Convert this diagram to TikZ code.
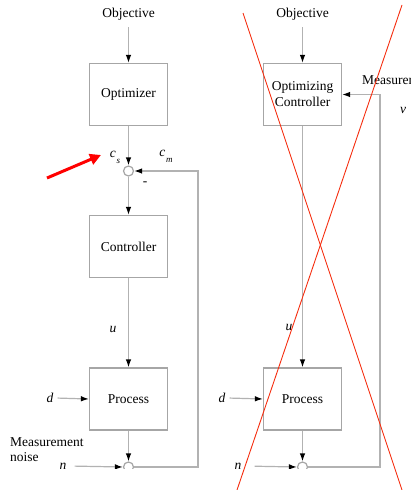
\documentclass[tikz,border=0pt]{standalone}
\usepackage{tikz}
\usetikzlibrary{arrows.meta,shapes}
\usepackage{fontspec}
\setmainfont{Liberation Serif}

\newcommand{\sgn}[2]{\textit{#1}\kern1pt\raisebox{-6pt}{\small\textit{#2}}}

\begin{document}
\begin{tikzpicture}[
            x=1pt,y=-1pt,
            font=\rmfamily\fontsize{13.5}{15.5}\selectfont,
            block/.style={draw=gray!70,line width=1.2pt,rectangle,minimum width=78,minimum height=62,align=center,text=black},
            sum/.style={draw=gray!70,line width=1.2pt,circle,minimum size=10,inner sep=0},
            lab/.style={text=black,inner sep=2},
            sig/.style={draw=gray!60,line width=1.2pt,-{Latex[black,length=8pt,width=5.5pt]}},
            cross/.style={draw={rgb,255:red,245;green,45;blue,15},line width=0.9pt}
          ]
          \useasboundingbox (0,0) rectangle (411,490);
          \begin{scope}
          \clip (0,0) rectangle (411,468);

          %left loop
          \node[lab] (obj1) at (128.5,14) {Objective};
          \node[block,below of = obj1,node distance=80.5] (opt) {Optimizer};
          \node[sum,below of = opt,node distance=76.5] (s1) {};
          \node[block,below of = s1,node distance=75.5] (ctrl) {Controller};
          \node[block,below of = ctrl,node distance=152.5] (proc1) {Process};
          \node[sum,below of = proc1,node distance=68] (s2) {};
          \coordinate (fb1) at (198,171);

          %left labels
          \node[lab] (cs) at (115,157) {\sgn{c}{s}};
          \node[lab] (cm) at (166,156) {\sgn{c}{m}};
          \node[lab] (neg) at (145,184) {-};
          \node[lab] (u1) at (113,329) {\textit{u}};
          \node[lab] (d1) at (50,398) {\textit{d}};
          \node[lab] (n1) at (63,466) {\textit{n}};
          \node[lab,anchor=north west,align=left] (noise) at (8,435) {Measurement\\noise};

          \path
          (obj1.south) edge[sig,shorten <=5pt] (opt.north)
          (opt.south) edge[sig] (s1.north)
          (s1.south) edge[sig] (ctrl.north)
          (ctrl.south) edge[sig] (proc1.north)
          (proc1.south) edge[sig] (s2.north)
          (d1.east) edge[sig,shorten <=2pt] (proc1.west)
          (n1.east) edge[sig,shorten <=6pt] (s2.west)
          ;
          \draw[sig] (s2.east) -| (fb1) -- (s1.east);

          %right loop
          \node[lab] (obj2) at (302.5,14) {Objective};
          \node[block,below of = obj2,node distance=80.5,font=\rmfamily\fontsize{13.5}{16}\selectfont] (oc) {Optimizing\\Controller};
          \node[block,below of = oc,node distance=304.5] (proc2) {Process};
          \node[sum,below of = proc2,node distance=68] (s3) {};
          \coordinate (fb2) at (380,94.5);

          %right labels
          \node[lab] (u2) at (289,327) {\textit{u}};
          \node[lab] (d2) at (222,398) {\textit{d}};
          \node[lab] (n2) at (238,466) {\textit{n}};
          \node[lab,anchor=west] (meas) at (360,80) {Measurement};
          \node[lab] (v2) at (403,110) {\textit{v}};

          \path
          (obj2.south) edge[sig,shorten <=5pt] (oc.north)
          (oc.south) edge[sig] (proc2.north)
          (proc2.south) edge[sig] (s3.north)
          (d2.east) edge[sig,shorten <=2pt] (proc2.west)
          (n2.east) edge[sig,shorten <=11pt] (s3.west)
          ;
          \draw[sig] (s3.east) -| (fb2) -- (oc.east);
          \end{scope}

          %cross out
          \coordinate (x1) at (243,13);
          \coordinate (x2) at (402,490);
          \coordinate (x3) at (402,5);
          \coordinate (x4) at (237,490);
          \draw[cross] (x1) -- (x2);
          \draw[cross] (x3) -- (x4);

          %pointer
          \coordinate (pt) at (47,178);
          \coordinate (ph) at (101,155);
          \draw[red,line width=3pt,-{Triangle[length=11pt,width=11pt]}] (pt) -- (ph);

      \end{tikzpicture}
\end{document}
